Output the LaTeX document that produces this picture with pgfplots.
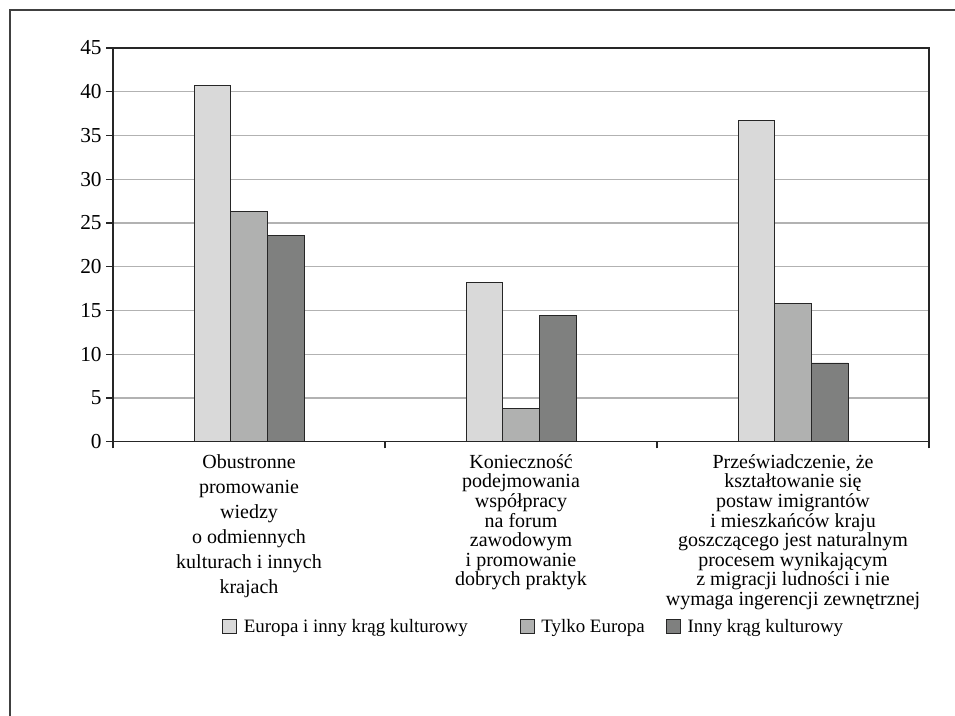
\documentclass[border=0pt]{standalone}
\usepackage{fontspec}
\setmainfont{Liberation Serif}
\usepackage{pgfplots}
\pgfplotsset{compat=1.18}

\definecolor{barA}{HTML}{D9D9D9}
\definecolor{barB}{HTML}{B0B1B0}
\definecolor{barC}{HTML}{7F807F}

\begin{document}
\begin{tikzpicture}
\useasboundingbox (0,0) rectangle (716.25pt,537pt);
% outer frame (only top and left edges are visible)
\draw[line width=1.3pt, black!75] (7.5pt,0) -- (7.5pt,529.5pt) -- (716.25pt,529.5pt);

\begin{axis}[
    at={(84.75pt,205.7pt)}, anchor=south west,
    scale only axis,
    width=612pt, height=295.3pt,
    font=\fontsize{15}{14.7}\selectfont,
    ybar=0pt, bar width=27.5pt,
    xmin=-0.5, xmax=2.5,
    ymin=0, ymax=45,
    ytick={0,5,...,45},
    xtick={0,1,2},
    xticklabels={
        {Obustronne\\[4.1pt]promowanie\\[4.1pt]wiedzy\\[4.1pt]o odmiennych\\[4.1pt]kulturach i innych\\[4.1pt]krajach},
        {Konieczność\\podejmowania\\współpracy\\na forum\\zawodowym\\i promowanie\\dobrych praktyk},
        {Przeświadczenie, że\\kształtowanie się\\postaw imigrantów\\i mieszkańców kraju\\goszczącego jest naturalnym\\procesem wynikającym\\z migracji ludności i nie\\wymaga ingerencji zewnętrznej}},
    xticklabel style={align=center, anchor=north, yshift=-1pt},
    yticklabel style={font=\fontsize{16}{17}\selectfont},
    major x tick style={draw=none},
    minor xtick={-0.5,0.5,1.5,2.5},
    minor x tick style={black!85, line width=0.8pt},
    minor tick length=5pt,
    major tick length=5pt,
    tick align=outside,
    xtick pos=bottom, ytick pos=left,
    y tick style={black!85, line width=0.8pt},
    ymajorgrids,
    major grid style={black!30, line width=1pt},
    axis line style={black!85, line width=0.8pt},
    /pgf/number format/assume math mode=true,
    legend columns=3,
    legend style={
        at={(rel axis cs:0.516,-0.47)}, anchor=center,
        draw=none, fill=none,
        font=\fontsize{14.2}{17}\selectfont,
        /tikz/column 2/.style={column sep=37pt},
        /tikz/column 4/.style={column sep=14pt},
    },
    legend cell align=left,
    legend image code/.code={\draw[#1, draw=black!85, line width=0.6pt] (0pt,-5pt) rectangle (10.5pt,5.5pt); \path (13.5pt,0pt);},
]
\addplot[fill=barA, draw=black!85, line width=0.7pt] coordinates {(0,40.7) (1,18.2) (2,36.7)};
\addplot[fill=barB, draw=black!85, line width=0.7pt] coordinates {(0,26.3) (1,3.8) (2,15.8)};
\addplot[fill=barC, draw=black!85, line width=0.7pt] coordinates {(0,23.6) (1,14.4) (2,9.0)};
\legend{Europa i inny krąg kulturowy, Tylko Europa, Inny krąg kulturowy}
\node[font=\fontsize{16}{17}\selectfont] at (rel axis cs:0,0.5) [xshift=-54.75pt] {\%};
\end{axis}
\end{tikzpicture}
\end{document}
